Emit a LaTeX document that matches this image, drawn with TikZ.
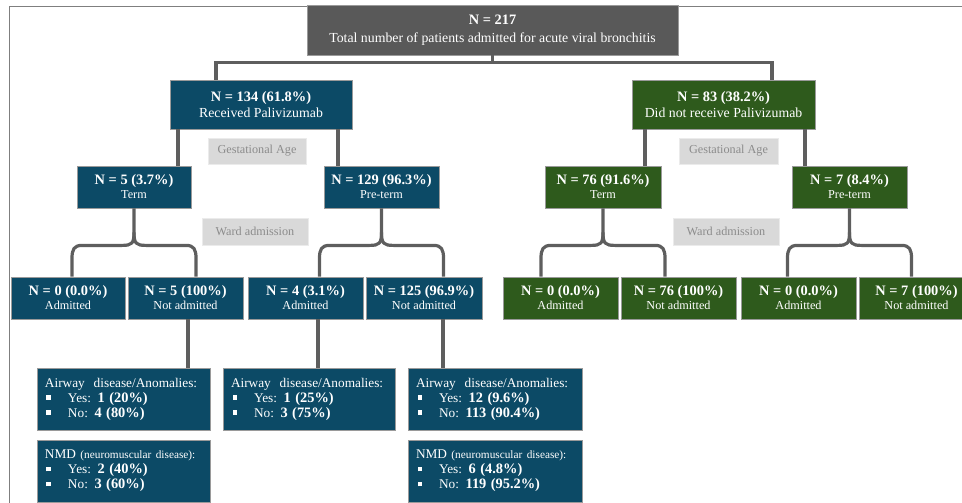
\documentclass[tikz,border=0pt]{standalone}
\usepackage{fontspec}
\setmainfont{Liberation Serif}
\usetikzlibrary{calc}
\definecolor{cblue}{HTML}{0C4A66}
\definecolor{cgreen}{HTML}{2E5A1C}
\definecolor{cgraybox}{HTML}{595959}
\definecolor{cconn}{HTML}{5E5E5E}
\definecolor{cborder}{HTML}{9A9A9A}
\definecolor{clabfill}{HTML}{D9D9D9}
\definecolor{clabtext}{HTML}{8C8C8C}
\definecolor{clabborder}{HTML}{EBEBEB}
\definecolor{cframe}{HTML}{7F7F7F}

\newcommand\bl[1]{{\fontsize{14.4}{14}\selectfont\bfseries #1}}
\newcommand\sqb{\makebox[23pt][l]{\hspace{1.5pt}\rule[2.5pt]{4.5pt}{4.5pt}}}
\newcommand\fork[3]{%
  \coordinate (fs) at (#1.south);
  \coordinate (fl) at ($(fs)+(-62,0)$);
  \coordinate (fr) at ($(fs)+(62,0)$);
  \draw[conn] (fs) -- ($(fs)+(0,24)$)
    .. controls ($(fs)+(0,35)$) and ($(fs)+(-2,37)$) .. ($(fs)+(-12,37)$)
    -- ($(fs)+(-52,37)$)
    .. controls ($(fs)+(-60,37)$) and ($(fs)+(-62,41)$) .. ($(fs)+(-62,50)$)
    -- (fl |- #2.north);
  \draw[conn] ($(fs)+(0,24)$)
    .. controls ($(fs)+(0,35)$) and ($(fs)+(2,37)$) .. ($(fs)+(12,37)$)
    -- ($(fs)+(52,37)$)
    .. controls ($(fs)+(60,37)$) and ($(fs)+(62,41)$) .. ($(fs)+(62,50)$)
    -- (fr |- #3.north);
}

\begin{document}
\begin{tikzpicture}[x=1pt,y=-1pt,
  box/.style={draw=cborder, line width=0.8pt, inner sep=0pt, align=center, text=white,
    minimum height=42pt, minimum width=115pt, font=\fontsize{12.2}{14}\selectfont},
  bluebox/.style={box, fill=cblue},
  greenbox/.style={box, fill=cgreen},
  bigbox/.style={minimum height=49pt, font=\fontsize{13.8}{16}\selectfont},
  conn/.style={draw=cconn, line width=3.2pt, line join=round},
  lab/.style={fill=clabfill, draw=clabborder, line width=0.8pt, text=clabtext,
    font=\fontsize{12.2}{12}\selectfont, inner sep=0pt, minimum height=26pt},
  infobox/.style={bluebox, align=left, minimum width=173pt, minimum height=62pt,
    text width=157pt, inner xsep=8pt, font=\fontsize{13.3}{15}\selectfont}
]
\useasboundingbox (0,0) rectangle (962,503);
\draw[draw=cframe, line width=1pt] (9,520) -- (9,7) -- (980,7);

% top
\node[box, bigbox, fill=cgraybox, minimum width=371pt, minimum height=50pt,
  font=\fontsize{13.8}{18}\selectfont] (top) at (492.5,30)
  {\bl{N = 217}\\Total number of patients admitted for acute viral bronchitis};

% level 1
\node[bluebox, bigbox, minimum width=182pt] (n134) at (261,104.5)
  {\bl{N = 134 (61.8\%)}\\Received Palivizumab};
\node[greenbox, bigbox, minimum width=183pt] (n83) at (723.5,104.5)
  {\bl{N = 83 (38.2\%)}\\Did not receive Palivizumab};

% labels
\node[lab, minimum width=98pt] (ga1) at (257,151) {Gestational Age};
\node[lab, minimum width=99pt] (ga2) at (728.5,151) {Gestational Age};
\node[lab, minimum width=106pt, minimum height=27pt] (wa1) at (255,231.5) {Ward admission};
\node[lab, minimum width=106pt, minimum height=27pt] (wa2) at (726,231.5) {Ward admission};

% level 2
\node[bluebox, minimum width=114pt] (t5) at (134,187) {\bl{N = 5 (3.7\%)}\\Term};
\node[bluebox] (p129) at (381.5,187) {\bl{N = 129 (96.3\%)}\\Pre-term};
\node[greenbox, minimum width=116pt] (t76) at (603,187) {\bl{N = 76 (91.6\%)}\\Term};
\node[greenbox] (p7) at (849.5,187) {\bl{N = 7 (8.4\%)}\\Pre-term};

% level 3
\node[bluebox, minimum width=114pt] (a0) at (68,298) {\bl{N = 0 (0.0\%)}\\Admitted};
\node[bluebox] (na5) at (185.5,298) {\bl{N = 5 (100\%)}\\Not admitted};
\node[bluebox] (a4) at (305.5,298) {\bl{N = 4 (3.1\%)}\\Admitted};
\node[bluebox, minimum width=116pt] (na125) at (424,298) {\bl{N = 125 (96.9\%)}\\Not admitted};
\node[greenbox] (ga0) at (560.5,298) {\bl{N = 0 (0.0\%)}\\Admitted};
\node[greenbox] (gna76) at (678.5,298) {\bl{N = 76 (100\%)}\\Not admitted};
\node[greenbox] (gb0) at (798.5,298) {\bl{N = 0 (0.0\%)}\\Admitted};
\node[greenbox] (gna7) at (916.5,298) {\bl{N = 7 (100\%)}\\Not admitted};

% info boxes
\node[infobox] (air1) at (123.5,399)
  {Airway\ \ disease/Anomalies:\\\sqb Yes: \bl{1 (20\%)}\\\sqb No: \bl{4 (80\%)}};
\node[infobox] (nmd1) at (123.5,471)
  {NMD {\fontsize{11.3}{10}\selectfont (neuromuscular disease):}\\\sqb Yes: \bl{2 (40\%)}\\\sqb No: \bl{3 (60\%)}};
\node[infobox, minimum width=172pt, text width=156pt] (air2) at (309,399)
  {Airway\ \ disease/Anomalies:\\\sqb Yes: \bl{1 (25\%)}\\\sqb No: \bl{3 (75\%)}};
\node[infobox, minimum width=174pt, text width=158pt] (air3) at (495,399)
  {Airway\ \ disease/Anomalies:\\\sqb Yes: \bl{12 (9.6\%)}\\\sqb No: \bl{113 (90.4\%)}};
\node[infobox, minimum width=174pt, text width=158pt] (nmd3) at (495,471)
  {NMD {\fontsize{11.3}{10}\selectfont (neuromuscular disease):}\\\sqb Yes: \bl{6 (4.8\%)}\\\sqb No: \bl{119 (95.2\%)}};

% connectors
\coordinate (tj) at ($(top.south)+(0,7)$);
\draw[conn] (top.south) -- (tj);
\draw[conn, line join=miter] ($(n134.north)+(-45,0)$) |- (tj) -| ($(n83.north)+(48.5,0)$);

\draw[conn] ($(n134.south)+(-83,0)$) -- ($(t5.north)+(44,0)$);
\draw[conn] ($(n134.south)+(77,0)$) -- ($(p129.north)+(-43.5,0)$);
\draw[conn] ($(n83.south)+(-78.5,0)$) -- ($(t76.north)+(42,0)$);
\draw[conn] ($(n83.south)+(81.5,0)$) -- ($(p7.north)+(-44.5,0)$);

\fork{t5}{a0}{na5}
\fork{p129}{a4}{na125}
\fork{t76}{ga0}{gna76}
\fork{p7}{gb0}{gna7}

\draw[conn] ($(na5.south)+(2.5,0)$) -- ($(air1.north)+(64.5,0)$);
\draw[conn] ($(a4.south)+(12.5,0)$) -- ($(air2.north)+(9,0)$);
\draw[conn] ($(na125.south)+(19,0)$) -- ($(air3.north)+(-52,0)$);
\end{tikzpicture}
\end{document}
